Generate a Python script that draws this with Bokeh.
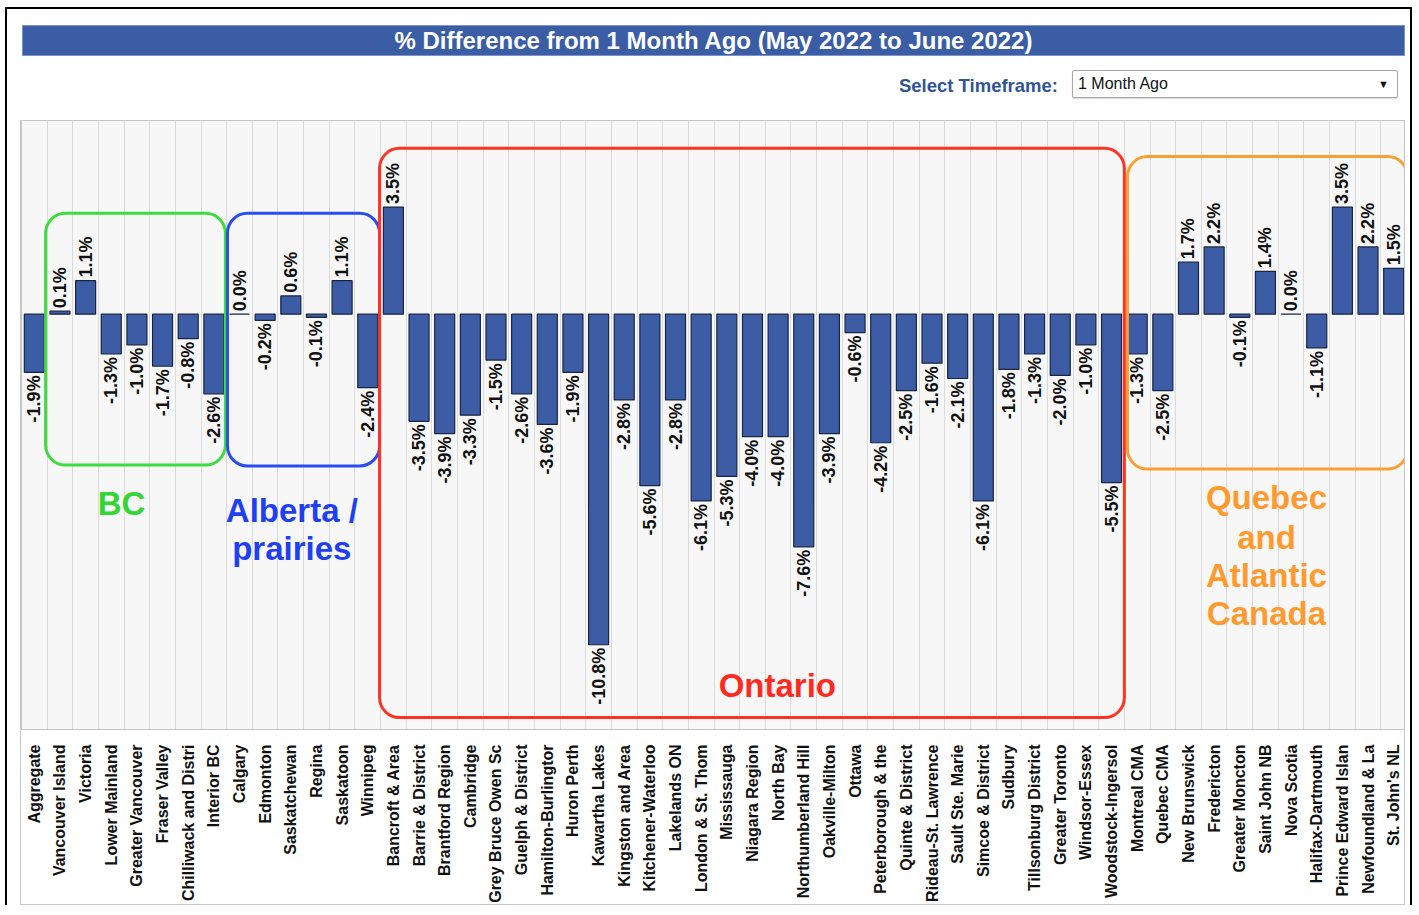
import math

from bokeh.core.properties import value
from bokeh.embed import file_html
from bokeh.layouts import column
from bokeh.models import BoxAnnotation, ColumnDataSource, Div, FixedTicker, Label, Range1d
from bokeh.plotting import figure
from bokeh.resources import INLINE

# --- data -----------------------------------------------------------------
regions = [
    "Aggregate", "Vancouver Island", "Victoria", "Lower Mainland", "Greater Vancouver",
    "Fraser Valley", "Chilliwack and District", "Interior BC", "Calgary", "Edmonton",
    "Saskatchewan", "Regina", "Saskatoon", "Winnipeg", "Bancroft & Area",
    "Barrie & District", "Brantford Region", "Cambridge", "Grey Bruce Owen Sound",
    "Guelph & District", "Hamilton-Burlington", "Huron Perth", "Kawartha Lakes",
    "Kingston and Area", "Kitchener-Waterloo", "Lakelands ON", "London & St. Thomas",
    "Mississauga", "Niagara Region", "North Bay", "Northumberland Hills",
    "Oakville-Milton", "Ottawa", "Peterborough & the Kawarthas", "Quinte & District",
    "Rideau-St. Lawrence", "Sault Ste. Marie", "Simcoe & District", "Sudbury",
    "Tillsonburg District", "Greater Toronto", "Windsor-Essex", "Woodstock-Ingersoll",
    "Montreal CMA", "Quebec CMA", "New Brunswick", "Fredericton", "Greater Moncton",
    "Saint John NB", "Nova Scotia", "Halifax-Dartmouth", "Prince Edward Island",
    "Newfoundland & Labrador", "St. John's NL",
]

# axis tick labels as they fit under the chart
tick_labels = [
    "Aggregate", "Vancouver Island", "Victoria", "Lower Mainland", "Greater Vancouver",
    "Fraser Valley", "Chilliwack and Distri", "Interior BC", "Calgary", "Edmonton",
    "Saskatchewan", "Regina", "Saskatoon", "Winnipeg", "Bancroft & Area",
    "Barrie & District", "Brantford Region", "Cambridge", "Grey Bruce Owen Sc",
    "Guelph & District", "Hamilton-Burlingtor", "Huron Perth", "Kawartha Lakes",
    "Kingston and Area", "Kitchener-Waterloo", "Lakelands ON", "London & St. Thom",
    "Mississauga", "Niagara Region", "North Bay", "Northumberland Hill",
    "Oakville-Milton", "Ottawa", "Peterborough & the", "Quinte & District",
    "Rideau-St. Lawrence", "Sault Ste. Marie", "Simcoe & District", "Sudbury",
    "Tillsonburg District", "Greater Toronto", "Windsor-Essex", "Woodstock-Ingersol",
    "Montreal CMA", "Quebec CMA", "New Brunswick", "Fredericton", "Greater Moncton",
    "Saint John NB", "Nova Scotia", "Halifax-Dartmouth", "Prince Edward Islan",
    "Newfoundland & La", "St. John's NL",
]

# % change in benchmark price, May 2022 -> June 2022
pct_change = [
    -1.9, 0.1, 1.1, -1.3, -1.0, -1.7, -0.8, -2.6, 0.0, -0.2,
    0.6, -0.1, 1.1, -2.4, 3.5, -3.5, -3.9, -3.3, -1.5, -2.6,
    -3.6, -1.9, -10.8, -2.8, -5.6, -2.8, -6.1, -5.3, -4.0, -4.0,
    -7.6, -3.9, -0.6, -4.2, -2.5, -1.6, -2.1, -6.1, -1.8, -1.3,
    -2.0, -1.0, -5.5, -1.3, -2.5, 1.7, 2.2, -0.1, 1.4, 0.0,
    -1.1, 3.5, 2.2, 1.5,
]

title_text = "% Difference from 1 Month Ago (May 2022 to June 2022)"
selector_caption = "Select Timeframe:"
selector_value = "1 Month Ago"

FONT = "Liberation Sans"
BAR_BLUE = "#3c5da6"

# --- header: banner + timeframe selector ------------------------------------
header_html = f"""
<div style="position:relative;width:1403px;height:111px;font-family:'{FONT}',Arial,sans-serif;">
  <div style="position:absolute;left:15px;top:16px;width:1383px;height:31px;
              background:#3a5da6;border:1px solid #7b93c6;box-sizing:border-box;
              color:#ffffff;font-weight:bold;font-size:24px;line-height:29px;
              text-align:center;white-space:nowrap;">{title_text}</div>
  <div style="position:absolute;left:851px;top:67px;width:200px;height:20px;
              text-align:right;color:#2f5597;font-weight:bold;font-size:18.5px;
              line-height:20px;white-space:nowrap;">{selector_caption}</div>
  <div style="position:absolute;left:1065px;top:61px;width:326px;height:28px;
              border:1px solid #a8a8a8;border-radius:2px;box-sizing:border-box;
              background:#ffffff;box-shadow:0 1px 1px #d8d8d8;">
    <span style="position:absolute;left:5px;top:4px;font-size:16px;line-height:18px;
                 color:#111;white-space:nowrap;">{selector_value}</span>
    <span style="position:absolute;right:8px;top:6px;font-size:11px;line-height:14px;
                 color:#111;">&#9660;</span>
  </div>
</div>
"""
header = Div(text=header_html, width=1403, height=111, margin=(0, 0, 0, 0))

# --- chart ------------------------------------------------------------------
n = len(regions)
xs = list(range(n))
labels = [f"{v:.1f}%" for v in pct_change]

bars = ColumnDataSource(dict(x=xs, top=pct_change))
pos_idx = [i for i, v in enumerate(pct_change) if v >= 0]
neg_idx = [i for i, v in enumerate(pct_change) if v < 0]
pos_src = ColumnDataSource(dict(x=[xs[i] for i in pos_idx],
                                y=[pct_change[i] for i in pos_idx],
                                label=[labels[i] for i in pos_idx]))
neg_src = ColumnDataSource(dict(x=[xs[i] for i in neg_idx],
                                y=[pct_change[i] for i in neg_idx],
                                label=[labels[i] for i in neg_idx]))

p = figure(
    width=1385, height=785,
    x_range=Range1d(-0.5, n - 0.5),
    y_range=Range1d(-13.57, 6.33),
    output_backend="svg", toolbar_location=None,
    y_axis_location=None,
    min_border=0, min_border_bottom=175,
    background_fill_color="#f7f7f7", border_fill_color="#ffffff",
    outline_line_color="#c6c6c6",
    margin=(0, 0, 0, 13),
    styles={"border-left": "1px solid #c6c6c6", "border-right": "1px solid #c6c6c6",
            "border-bottom": "1px solid #c6c6c6"},
)

# vertical separators between categories
p.xgrid.ticker = FixedTicker(ticks=[i + 0.5 for i in range(n - 1)])
p.xgrid.grid_line_color = "#dadada"
p.ygrid.visible = False

p.vbar(x="x", top="top", bottom=0, width=0.78, source=bars,
       fill_color=BAR_BLUE, line_color="#1a2640", line_width=1.2)

text_kw = dict(angle=math.pi / 2, text_baseline="middle", text_font=value(FONT),
               text_font_style="bold", text_font_size="18px", text_color="#111111")
p.text(x="x", y="y", text="label", source=pos_src, text_align="left",
       y_offset=-3, **text_kw)
p.text(x="x", y="y", text="label", source=neg_src, text_align="right",
       y_offset=3, **text_kw)

ax = p.xaxis[0]
ax.ticker = FixedTicker(ticks=xs)
ax.major_label_overrides = {i: lab for i, lab in enumerate(tick_labels)}
ax.major_label_orientation = math.pi / 2
ax.major_label_text_font = FONT
ax.major_label_text_font_style = "bold"
ax.major_label_text_font_size = "16px"
ax.major_label_text_color = "#111111"
ax.major_label_standoff = 15
ax.major_tick_in = 0
ax.major_tick_out = 0
ax.minor_tick_out = 0
ax.minor_tick_in = 0
ax.axis_line_color = "#c6c6c6"

# --- regional groupings -----------------------------------------------------
groups = [
    # (left, right, top, bottom) in category-index / % units, colour
    ((0.44, 7.45, 3.30, -4.93), "#3fdc3f"),
    ((7.53, 13.46, 3.30, -4.96), "#2a4cf0"),
    ((13.46, 42.50, 5.42, -13.18), "#ff3322"),
    ((42.62, 53.54, 5.15, -5.06), "#f8a033"),
]
for (l, r, t, b), c in groups:
    p.add_layout(BoxAnnotation(left=l, right=r, top=t, bottom=b, fill_alpha=0,
                               line_color=c, line_alpha=1.0, line_width=3,
                               border_radius=20))

group_titles = [
    ("BC", 3.40, -6.20, "#33d633"),
    ("Alberta /", 10.04, -6.43, "#1f3ff2"),
    ("prairies", 10.04, -7.67, "#1f3ff2"),
    ("Ontario", 28.97, -12.14, "#ff2a1f"),
    ("Quebec", 48.04, -6.00, "#ff9a2e"),
    ("and", 48.04, -7.31, "#ff9a2e"),
    ("Atlantic", 48.04, -8.55, "#ff9a2e"),
    ("Canada", 48.04, -9.79, "#ff9a2e"),
]
for txt, gx, gy, c in group_titles:
    p.add_layout(Label(x=gx, y=gy, text=txt, text_align="center", text_baseline="middle",
                       text_font=FONT, text_font_style="bold", text_font_size="33px",
                       text_color=c))

page = column(header, p, margin=(7, 0, 0, 5),
              styles={"border-left": "2px solid #000", "border-right": "2px solid #000",
                      "border-top": "2px solid #000"})

open("out.html", "w").write(file_html(page, INLINE))
